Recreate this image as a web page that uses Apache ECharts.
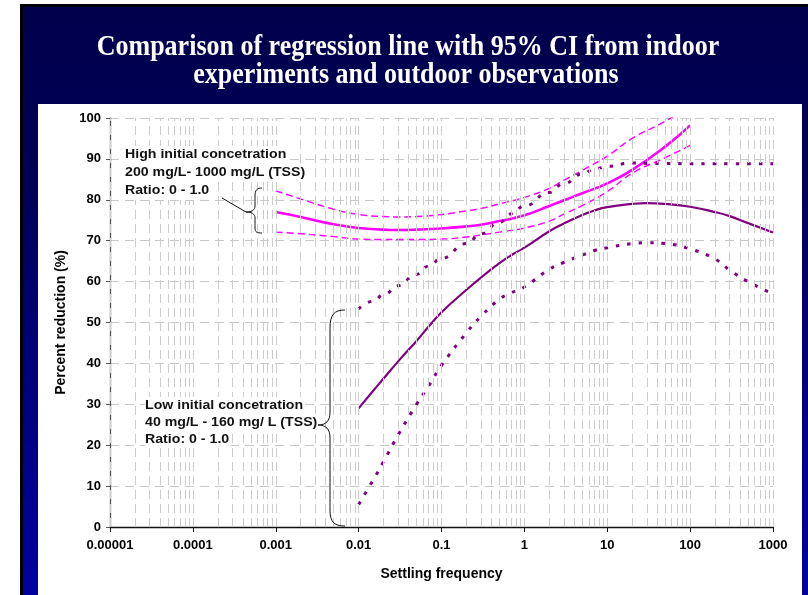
<!DOCTYPE html>
<html>
<head>
<meta charset="utf-8">
<script src="https://cdn.jsdelivr.net/npm/echarts@6/dist/echarts.min.js"></script>
<style>
  html, body { margin: 0; padding: 0; background: #fff; }
  #frame { position: relative; width: 808px; height: 595px; overflow: hidden; }
  .border { position: absolute; left: 20px; top: 4px; width: 788px; height: 591px; background: #000; }
  .slide { position: absolute; left: 23px; top: 7px; width: 785px; height: 588px;
           background: linear-gradient(to bottom, #00004c 0%, #000058 30%, #00007a 60%, #0000a0 100%); }
  .panel { position: absolute; left: 38px; top: 104px; width: 764px; height: 491px; background: #fff; }
  #chart { position: absolute; left: 0; top: 0; width: 808px; height: 595px; }
</style>
</head>
<body>
<div id="frame">
  <div class="border"></div>
  <div class="slide"></div>
  <div class="panel"></div>
  <div id="chart"></div>
</div>
<script>
// high initial concentration (indoor), regression + 95% CI
let high_x     = [0.001, 0.002, 0.005, 0.01, 0.02, 0.03, 0.05, 0.1, 0.2, 0.3, 0.5, 1, 2, 3, 5, 10, 20, 50, 100];
let high_mid   = [77, 75.8, 74, 73.1, 72.7, 72.6, 72.7, 73, 73.5, 73.9, 74.8, 76.2, 78.5, 79.9, 81.6, 84, 87.3, 93, 98.2];
let high_upper = [82.2, 80.2, 77.7, 76.4, 75.9, 75.8, 75.9, 76.4, 77.3, 77.9, 79, 80.6, 82.8, 84.8, 87.2, 90.7, 95, 99.2, 103];
let high_lower = [72.1, 71.7, 71, 70.4, 70.3, 70.3, 70.3, 70.4, 70.9, 71.4, 72.1, 73.1, 74.8, 76.5, 78.6, 82, 86.5, 90.3, 93.3];

// low initial concentration (outdoor), regression + 95% CI
let low_x     = [0.01, 0.015, 0.02, 0.03, 0.05, 0.07, 0.1, 0.2, 0.3, 0.5, 0.7, 1, 2, 3, 5, 7, 10, 20, 30, 50, 100, 200, 300, 500, 1000];
let low_mid   = [29, 33.3, 36.3, 40.5, 45.5, 49, 52.5, 58, 61, 64.5, 66.5, 68.3, 72.3, 74.2, 76.3, 77.4, 78.2, 79, 79.2, 79, 78.3, 77, 76, 74.3, 72];
let low_upper = [53.3, 55.2, 56.8, 59, 61.8, 63.8, 65.7, 69.3, 71.7, 74.5, 76.6, 78.5, 81.8, 84, 86.3, 87.5, 88.2, 89, 88.9, 88.9, 88.8, 88.8, 88.8, 88.8, 88.8];
let low_lower = [5.5, 11.5, 16, 22.5, 30, 34.5, 39.5, 47.5, 51.5, 55.7, 57.3, 58.7, 63, 64.7, 66.5, 67.6, 68.3, 69.3, 69.5, 69.3, 68, 65.5, 62.8, 60, 57];

// axis labels
let x_tick_labels = ["0.00001", "0.0001", "0.001", "0.01", "0.1", "1", "10", "100", "1000"];
let y_min = 0, y_max = 100, y_step = 10;

let title_lines = ["Comparison of regression line with 95% CI from indoor", "experiments and outdoor observations"];
let high_note = ["High initial concetration", "200 mg/L- 1000 mg/L (TSS)", "Ratio: 0 - 1.0"];
let low_note  = ["Low initial concetration", "40 mg/L - 160 mg/ L (TSS)", "Ratio: 0 - 1.0"];

function pairs(xs, ys) {
    return xs.map(function (x, i) { return [x, ys[i]]; });
}

// log minor grid lines: 1..9 of every decade
let grid_x = [];
for (let k = -5; k < 3; k++) {
    for (let m = 1; m <= 9; m++) {
        grid_x.push({ xAxis: m * Math.pow(10, k) });
    }
}
grid_x.push({ xAxis: 1000 });

let magenta = "#ff00ff";
let purple = "#800080";
let font = "Liberation Sans";
let ink = "#111";

// one text element per note line, white box hides the grid behind it
function note_lines(lines, x, y, step) {
    return lines.map(function (t, i) {
        return {
            type: "text", x: x, y: y + i * step, scaleX: 1.18, z: 100,
            style: { text: t, font: "bold 12px Liberation Sans", fill: ink, lineHeight: step,
                     backgroundColor: "#fff", padding: [0, 1, 0, 0] }
        };
    });
}

// brace pieces: [x1, y1, cpx1, cpy1, cpx2, cpy2, x2, y2]
function brace(pts) {
    return pts.map(function (p) {
        return {
            type: "bezierCurve",
            z: 100,
            shape: { x1: p[0], y1: p[1], cpx1: p[2], cpy1: p[3], cpx2: p[4], cpy2: p[5], x2: p[6], y2: p[7] },
            style: { fill: null, stroke: ink, lineWidth: 1 }
        };
    });
}

let high_brace = brace([
    [262, 188, 257, 188, 255, 190, 255, 196],
    [255, 196, 255, 200, 255, 203, 255, 206],
    [255, 206, 255, 210, 252, 212, 246, 212],
    [246, 212, 252, 212, 255, 214, 255, 218],
    [255, 218, 255, 222, 255, 225, 255, 228],
    [255, 228, 255, 232, 257, 233, 262, 233]
]);
let low_brace = brace([
    [345, 310, 334, 310, 330, 315, 330, 328],
    [330, 328, 330, 360, 330, 390, 330, 412],
    [330, 412, 330, 421, 326, 425, 318, 425],
    [318, 425, 326, 425, 330, 429, 330, 438],
    [330, 438, 330, 470, 330, 490, 330, 510],
    [330, 510, 330, 522, 334, 526, 345, 526]
]);

let chart = echarts.init(document.getElementById("chart"));

chart.setOption({
    backgroundColor: "transparent",
    animation: false,
    grid: { left: 110, top: 118, right: 35, bottom: 68 },
    xAxis: {
        type: "log",
        logBase: 10,
        min: 0.00001,
        max: 1000,
        name: "Settling frequency",
        nameLocation: "middle",
        nameGap: 40,
        nameTextStyle: { fontFamily: font, fontWeight: "bold", fontSize: 14, color: "#000" },
        axisLine: { lineStyle: { color: "#111", width: 1.3 } },
        axisTick: { show: true, length: 5, lineStyle: { color: "#111" } },
        axisLabel: {
            margin: 12,
            fontFamily: font, fontWeight: "bold", fontSize: 13, color: "#000",
            formatter: function (v) {
                let i = Math.round(Math.log10(v)) + 5;
                return x_tick_labels[i];
            }
        },
        splitLine: { show: false },
        minorTick: { show: false }
    },
    yAxis: {
        type: "value",
        min: y_min,
        max: y_max,
        interval: y_step,
        name: "Percent reduction (%)",
        nameLocation: "middle",
        nameGap: 40,
        nameTextStyle: { fontFamily: font, fontWeight: "bold", fontSize: 14, color: "#000" },
        axisLine: { show: true, lineStyle: { color: "#555", width: 1.3 } },
        axisTick: { show: true, length: 4, lineStyle: { color: "#555" } },
        axisLabel: { margin: 9, fontFamily: font, fontWeight: "bold", fontSize: 13, color: "#000" },
        splitLine: { show: true, lineStyle: { color: "#c8c8c8", width: 1, type: [9, 6] } }
    },
    series: [
        {
            // vertical log grid
            type: "line",
            data: [],
            silent: true,
            z: 1,
            markLine: {
                silent: true,
                precision: 12,
                symbol: ["none", "none"],
                label: { show: false },
                animation: false,
                lineStyle: { color: "#cccccc", width: 1, type: [9, 5] },
                data: grid_x
            }
        },
        { name: "high", type: "line", data: pairs(high_x, high_mid), smooth: true, showSymbol: false, z: 3,
          lineStyle: { color: magenta, width: 2.6 } },
        { name: "high upper", type: "line", data: pairs(high_x, high_upper), smooth: true, showSymbol: false, z: 3,
          lineStyle: { color: magenta, width: 1.4, type: [7, 4] } },
        { name: "high lower", type: "line", data: pairs(high_x, high_lower), smooth: true, showSymbol: false, z: 3,
          lineStyle: { color: magenta, width: 1.4, type: [7, 4] } },
        { name: "low", type: "line", data: pairs(low_x, low_mid), smooth: true, showSymbol: false, z: 3,
          lineStyle: { color: purple, width: 2.2 } },
        { name: "low upper", type: "line", data: pairs(low_x, low_upper), smooth: true, smoothMonotone: "x", showSymbol: false, z: 3,
          lineStyle: { color: purple, width: 3, type: [3.5, 8] } },
        { name: "low lower", type: "line", data: pairs(low_x, low_lower), smooth: true, showSymbol: false, z: 3,
          lineStyle: { color: purple, width: 3, type: [3.5, 8] } }
    ],
    graphic: {
        elements: [
            {
                type: "text", x: 408, y: 47, scaleY: 1.12, z: 100,
                style: { text: title_lines[0], font: "bold 26px Liberation Serif", fill: "#fff", align: "center", verticalAlign: "middle" }
            },
            {
                type: "text", x: 406, y: 75, scaleY: 1.12, z: 100,
                style: { text: title_lines[1], font: "bold 26px Liberation Serif", fill: "#fff", align: "center", verticalAlign: "middle" }
            },
            {
                type: "line", z: 100,
                shape: { x1: 222, y1: 198, x2: 246, y2: 212 },
                style: { stroke: ink, lineWidth: 1 }
            }
        ].concat(note_lines(high_note, 125, 146, 18), note_lines(low_note, 145, 397, 17), high_brace, low_brace)
    }
});
</script>
</body>
</html>
